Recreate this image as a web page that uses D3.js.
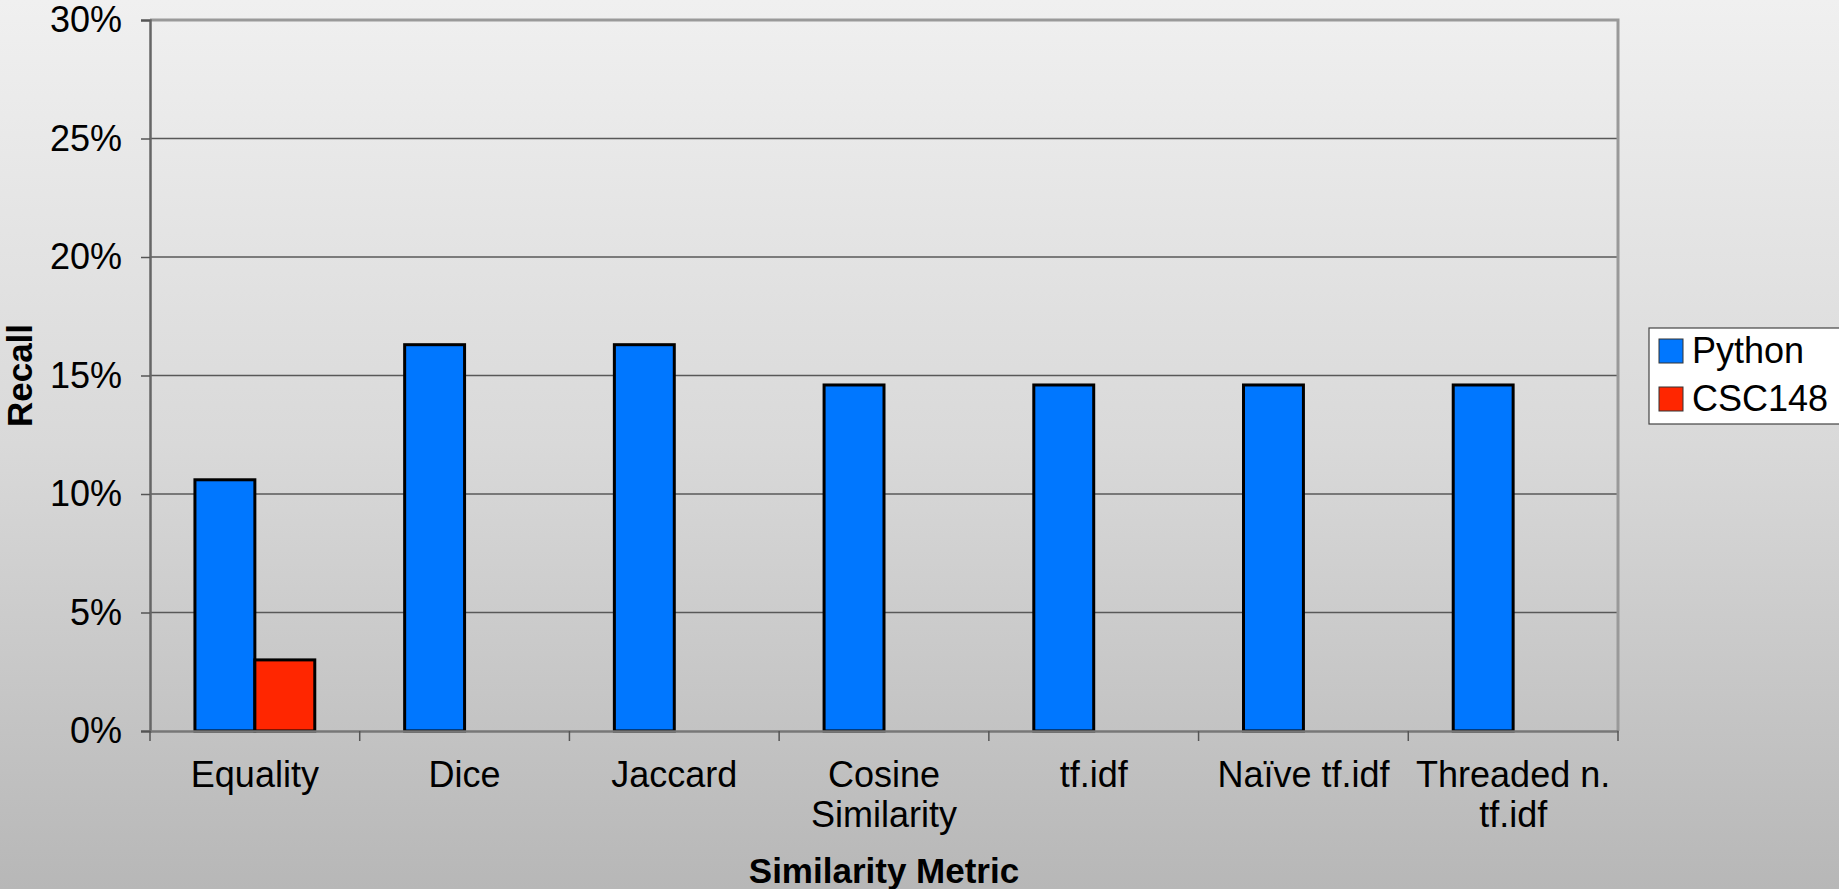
<!DOCTYPE html>
<html>
<head>
<meta charset="utf-8">
<script src="https://cdn.jsdelivr.net/npm/d3@7"></script>
<style>
  html, body { margin: 0; padding: 0; }
  body { width: 1839px; height: 889px; overflow: hidden; }
  text { font-family: "Liberation Sans", Arial, Helvetica, sans-serif; fill: #000; }
</style>
</head>
<body>
<svg id="chart" width="1839" height="889"></svg>
<script>
// Recall per similarity metric, for two corpora
const categories = ["Equality", "Dice", "Jaccard", "Cosine\nSimilarity", "tf.idf", "Naïve tf.idf", "Threaded n.\ntf.idf"];
const seriesNames = ["Python", "CSC148"];
const pythonValues = [0.106, 0.163, 0.163, 0.146, 0.146, 0.146, 0.146];
const csc148Values = [0.030, null, null, null, null, null, null];
const yTicks = [0, 0.05, 0.10, 0.15, 0.20, 0.25, 0.30];
const colors = ["#0077ff", "#ff2600"];

const svg = d3.select("#chart");
const W = 1839, H = 889;
const m = { left: 150, top: 20, right: 1618, bottom: 731 };

// background gradient
const defs = svg.append("defs");
const grad = defs.append("linearGradient").attr("id", "bg").attr("x1", 0).attr("y1", 0).attr("x2", 0).attr("y2", 1);
grad.append("stop").attr("offset", "0%").attr("stop-color", "#f0f0f0");
grad.append("stop").attr("offset", "50%").attr("stop-color", "#d9d9d9");
grad.append("stop").attr("offset", "100%").attr("stop-color", "#b7b7b7");
svg.append("rect").attr("width", W).attr("height", H).attr("fill", "url(#bg)");

const x0 = d3.scaleBand().domain(categories).range([m.left, m.right]).padding(0);
const x1 = d3.scaleBand().domain(seriesNames).range([0, x0.bandwidth()]).paddingInner(0).paddingOuter(0.75);
const y = d3.scaleLinear().domain([0, 0.30]).range([m.bottom, m.top]);

// gridlines
svg.append("g").selectAll("line").data(yTicks.slice(1, -1)).join("line")
  .attr("x1", m.left).attr("x2", m.right)
  .attr("y1", d => y(d)).attr("y2", d => y(d))
  .attr("stroke", "#585858").attr("stroke-width", 1.5);

// plot frame (top and right)
svg.append("path")
  .attr("d", `M${m.left},${y(0.30)}H${m.right}V${m.bottom}`)
  .attr("fill", "none").attr("stroke", "#999").attr("stroke-width", 3);

// bars
const rows = categories.map((c, i) => ({ cat: c, vals: [pythonValues[i], csc148Values[i]] }));
const groups = svg.append("g").selectAll("g").data(rows).join("g")
  .attr("transform", d => `translate(${x0(d.cat)},0)`);
groups.selectAll("rect")
  .data(d => d.vals.map((v, k) => ({ name: seriesNames[k], v, k })).filter(e => e.v != null))
  .join("rect")
  .attr("x", e => x1(e.name))
  .attr("width", x1.bandwidth())
  .attr("y", e => y(e.v))
  .attr("height", e => y(0) - y(e.v))
  .attr("fill", e => colors[e.k])
  .attr("stroke", "#000").attr("stroke-width", 3);

// y axis
const yAxis = d3.axisLeft(y).tickValues(yTicks).tickFormat(d3.format(".0%")).tickSize(9).tickPadding(19);
const gy = svg.append("g").attr("transform", `translate(${m.left},0)`).call(yAxis);
gy.select(".domain").attr("stroke", "#666").attr("stroke-width", 2.5);
gy.selectAll(".tick line").attr("stroke", "#555").attr("stroke-width", 1.5);
gy.selectAll(".tick text").attr("font-size", 36).attr("font-family", "Liberation Sans, Arial, sans-serif").attr("fill", "#000");

// x axis: labels centred in bands, tick marks on band boundaries
const xAxis = d3.axisBottom(x0).tickSize(0).tickPadding(0).tickFormat("");
const gx = svg.append("g").attr("transform", `translate(0,${m.bottom})`).call(xAxis);
gx.select(".domain").attr("stroke", "#777").attr("stroke-width", 2.5);
gx.selectAll(".tick").each(function(d) {
  const t = d3.select(this).append("text")
    .attr("text-anchor", "middle").attr("font-size", 36).attr("fill", "#000")
    .attr("font-family", "Liberation Sans, Arial, sans-serif");
  d.split("\n").forEach((line, i) => {
    t.append("tspan").attr("x", 0).attr("y", 56 + i * 40).text(line);
  });
});
const bounds = categories.map(c => x0(c)).concat([m.right]);
gx.append("g").selectAll("line").data(bounds).join("line")
  .attr("x1", d => d).attr("x2", d => d).attr("y1", 0).attr("y2", 10)
  .attr("stroke", "#555").attr("stroke-width", 1.5);

// axis titles
svg.append("text").attr("x", (m.left + m.right) / 2).attr("y", 883)
  .attr("text-anchor", "middle").attr("font-size", 35).attr("font-weight", "bold")
  .text("Similarity Metric");
svg.append("text").attr("transform", `translate(32,${(m.top + m.bottom) / 2}) rotate(-90)`)
  .attr("text-anchor", "middle").attr("font-size", 35).attr("font-weight", "bold")
  .text("Recall");

// legend
const lg = svg.append("g").attr("transform", "translate(1649,328)");
lg.append("rect").attr("width", 192).attr("height", 96)
  .attr("fill", "#fff").attr("stroke", "#444").attr("stroke-width", 1.2);
seriesNames.forEach((s, i) => {
  lg.append("rect").attr("x", 10).attr("y", 11 + i * 48).attr("width", 24).attr("height", 24)
    .attr("fill", colors[i]).attr("stroke", "#333").attr("stroke-width", 1);
  lg.append("text").attr("x", 43).attr("y", 35 + i * 48).attr("font-size", 36).text(s);
});
</script>
</body>
</html>
